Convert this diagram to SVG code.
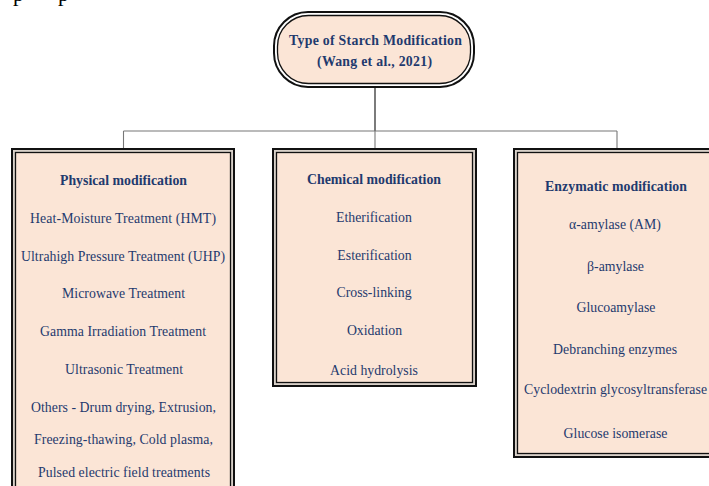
<svg xmlns="http://www.w3.org/2000/svg" width="709" height="486" viewBox="0 0 709 486">
<style>
  .bg{fill:#ffffff}
  .outer{fill:#d9d1c9;stroke:#111;stroke-width:2}
  .inner{fill:#fbe5d6;stroke:#111;stroke-width:1.3}
  .pouter{fill:#ffffff;stroke:#111;stroke-width:2}
  .pinner{fill:#fbe5d6;stroke:#111;stroke-width:1.3}
  .t{font-family:"Liberation Serif","Times New Roman",serif;font-size:13.8px;fill:#1f3a6e;text-anchor:middle}
  .b{font-weight:bold}
  .c1{stroke:#444;stroke-width:1.4;fill:none}
  .c2{stroke:#777;stroke-width:1.1;fill:none}
  .frag{font-family:"Liberation Serif","Times New Roman",serif;font-size:22px;fill:#000}
</style>
<rect class="bg" x="0" y="0" width="709" height="486"/>
<text class="frag" x="13" y="1">p</text>
<text class="frag" x="58" y="1">p</text>

<g id="connectors">
  <line class="c1" x1="375" y1="88" x2="375" y2="131"/>
  <line class="c2" x1="123.5" y1="131" x2="617" y2="131"/>
  <line class="c2" x1="123.5" y1="131" x2="123.5" y2="149"/>
  <line class="c2" x1="375" y1="131" x2="375" y2="149"/>
  <line class="c2" x1="617" y1="131" x2="617" y2="149"/>
</g>

<g id="root">
  <rect class="pouter" x="274" y="12" width="200" height="75" rx="34"/>
  <rect class="pinner" x="277.5" y="15.5" width="193" height="68" rx="31"/>
  <text class="t b" x="375.5" y="44.5" textLength="173">Type of Starch  Modification</text>
  <text class="t b" x="374.5" y="66" textLength="115">(Wang et al., 2021)</text>
</g>

<g id="physical">
  <rect class="outer" x="12" y="149" width="222" height="360"/>
  <rect class="inner" x="15.5" y="152.5" width="215" height="353"/>
  <text class="t b" x="123.5" y="184.5" textLength="127">Physical modification</text>
  <text class="t" x="123" y="222.5" textLength="186">Heat-Moisture  Treatment (HMT)</text>
  <text class="t" x="123" y="260.5" textLength="204">Ultrahigh  Pressure Treatment (UHP)</text>
  <text class="t" x="123.5" y="297.5" textLength="123">Microwave  Treatment</text>
  <text class="t" x="123" y="335.5" textLength="166">Gamma Irradiation  Treatment</text>
  <text class="t" x="124" y="373.5" textLength="118">Ultrasonic  Treatment</text>
  <text class="t" x="123.5" y="411.5" textLength="185">Others - Drum drying, Extrusion,</text>
  <text class="t" x="123.5" y="443.5" textLength="179">Freezing-thawing,  Cold plasma,</text>
  <text class="t" x="124" y="476.5" textLength="172">Pulsed electric  field  treatments</text>
</g>

<g id="chemical">
  <rect class="outer" x="273" y="149" width="203" height="237"/>
  <rect class="inner" x="276.5" y="152.5" width="196" height="230"/>
  <text class="t b" x="374" y="183.5" textLength="134">Chemical modification</text>
  <text class="t" x="374" y="221.5">Etherification</text>
  <text class="t" x="374.5" y="259.5">Esterification</text>
  <text class="t" x="374" y="297">Cross-linking</text>
  <text class="t" x="374.5" y="335">Oxidation</text>
  <text class="t" x="374" y="374.5">Acid hydrolysis</text>
</g>

<g id="enzymatic">
  <rect class="outer" x="514" y="149" width="206" height="308"/>
  <rect class="inner" x="517.5" y="152.5" width="199" height="301"/>
  <text class="t b" x="616" y="190.5" textLength="142">Enzymatic modification</text>
  <text class="t" x="615" y="228.5">α-amylase  (AM)</text>
  <text class="t" x="615.5" y="270.5">β-amylase</text>
  <text class="t" x="616" y="311.5">Glucoamylase</text>
  <text class="t" x="615" y="353.5" textLength="124">Debranching  enzymes</text>
  <text class="t" x="615.5" y="394" textLength="183">Cyclodextrin  glycosyltransferase</text>
  <text class="t" x="615.5" y="437.5">Glucose isomerase</text>
</g>
</svg>
